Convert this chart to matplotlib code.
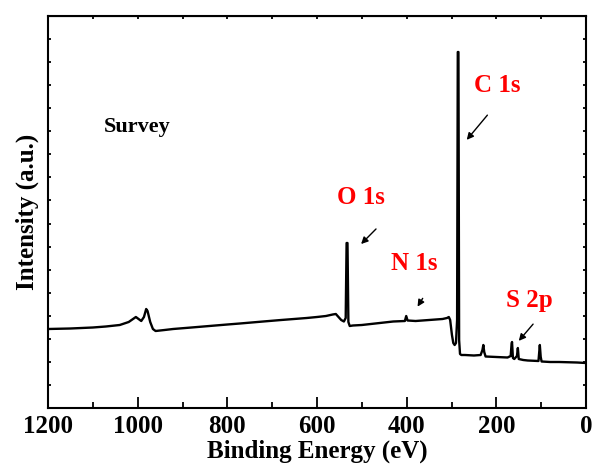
import matplotlib
matplotlib.use("Agg")
import matplotlib.pyplot as plt
from matplotlib.ticker import MultipleLocator, NullFormatter

# survey spectrum (binding energy in eV, intensity a.u.)
energy = [1200, 1150, 1100, 1071, 1040, 1020, 1004, 998, 992, 986,
          981, 978, 972, 966, 960, 940, 921, 880, 840, 800,
          772, 720, 680, 623, 600, 580, 565, 558, 552, 546,
          540, 536, 534, 532, 530, 527, 520, 500, 460, 430,
          404, 401, 398, 380, 350, 320, 310, 306, 303, 299,
          296, 293, 290, 287.5, 286, 284.5, 283, 281, 278, 270,
          250, 235, 231, 229, 227, 224, 200, 175, 168, 166,
          165, 163, 160, 154, 152, 150, 140, 130, 106, 103,
          101, 99, 80, 60, 20, 0]
intensity = [79, 79.5, 80.5, 81.5, 83, 86, 91, 89, 87, 91,
             99, 97, 86, 79, 77, 78, 79, 80.5, 82, 83.5,
             84.5, 86.5, 88, 90, 91, 92, 93.5, 94, 91, 88,
             86.5, 90, 165, 165, 86, 82, 82.5, 83, 85, 86.5,
             87, 92, 87.5, 87, 88, 89, 90, 91, 88, 73,
             65, 63, 65, 88, 356, 356, 68, 54, 53, 53,
             52.5, 53, 58, 63, 56, 51.5, 51, 50.5, 52, 64,
             66, 50, 49, 52, 60, 49, 48, 47.5, 47, 63,
             51, 46.5, 46, 46, 45.5, 45]

labels = ["C 1s", "O 1s", "N 1s", "S 2p"]
label_pos = [(198, 323), (501, 211), (384, 144), (126, 108)]
arrow_tail = [(216, 295), (464, 181), (361, 112), (114, 86)]
arrow_head = [(270, 266), (506, 162), (379, 99), (154, 65)]


def show_graph():
    """
    Draw the XPS survey spectrum with the peak labels and save it.
    """
    plt.rcParams['font.family'] = ['Liberation Serif', 'DejaVu Serif']
    plt.rcParams['font.weight'] = 'bold'

    fig = plt.figure(figsize=(5.95, 4.7), dpi=100)
    ax = fig.add_axes([48 / 595, 62 / 470, 538 / 595, 392 / 470])

    ax.plot(energy, intensity, color='black', linewidth=1.7)

    ax.set_xlim(1200, 0)
    ax.set_ylim(0, 392)

    ax.xaxis.set_major_locator(MultipleLocator(200))
    ax.xaxis.set_minor_locator(MultipleLocator(100))
    ax.yaxis.set_major_locator(MultipleLocator(392 / 17))
    ax.yaxis.set_major_formatter(NullFormatter())
    ax.tick_params(which='both', direction='in', right=True, width=1.3)
    ax.tick_params(axis='x', which='major', length=8)
    ax.tick_params(axis='x', which='minor', length=4)
    ax.tick_params(axis='y', length=2.5)
    ax.tick_params(axis='x', labelsize=18, pad=5)
    for spine in ax.spines.values():
        spine.set_linewidth(1.5)

    # small ticks along the top edge
    top = ax.secondary_xaxis('top')
    top.xaxis.set_major_locator(MultipleLocator(100))
    top.xaxis.set_major_formatter(NullFormatter())
    top.tick_params(direction='in', length=2, width=1.3)

    ax.set_xlabel("Binding Energy (eV)", fontsize=18, fontweight='bold',
                  labelpad=1)
    ax.set_ylabel("Intensity (a.u.)", fontsize=18, fontweight='bold',
                  labelpad=3)

    ax.text(1001, 281, "Survey", fontsize=16, fontweight='bold',
            ha='center', va='center')

    for name, pos, tail, head in zip(labels, label_pos, arrow_tail, arrow_head):
        ax.text(pos[0], pos[1], name, color='red', fontsize=18,
                fontweight='bold', ha='center', va='center')
        ax.annotate("", xy=head, xytext=tail,
                    arrowprops=dict(arrowstyle='-|>', color='black', lw=1,
                                    mutation_scale=10))

    fig.savefig("out.png", dpi=100)


def main():
    show_graph()


if __name__ == "__main__":
    main()
